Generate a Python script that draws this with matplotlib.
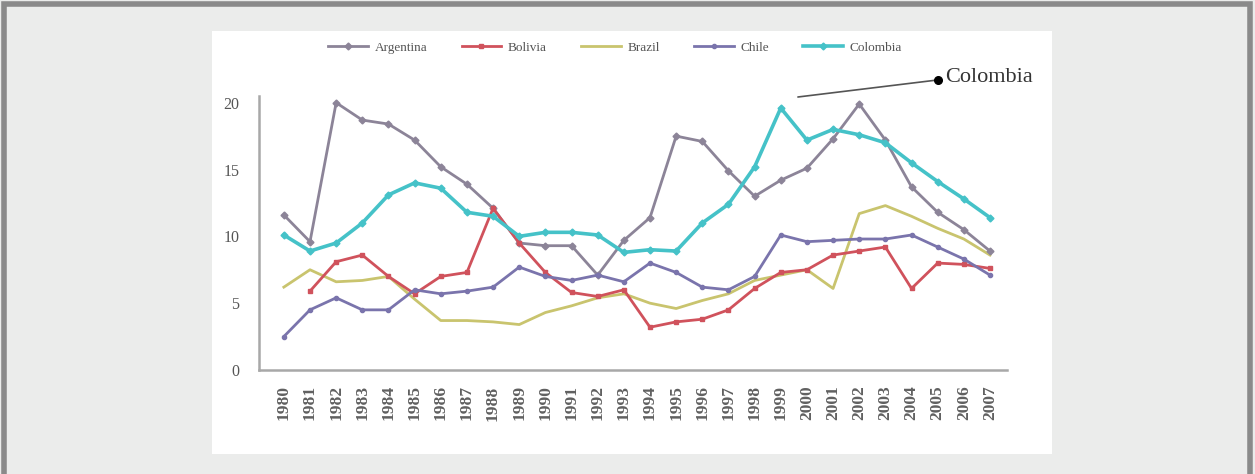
import matplotlib
matplotlib.use("Agg")
import matplotlib.pyplot as plt
from matplotlib.patches import Rectangle

years = list(range(1980, 2008))
year_labels = [str(y) for y in years]

argentina = [11.6, 9.6, 20.0, 18.7, 18.4, 17.2, 15.2, 13.9, 12.1, 9.5, 9.3, 9.3, 7.1, 9.7,
             11.4, 17.5, 17.1, 14.9, 13.0, 14.2, 15.1, 17.3, 19.9, 17.2, 13.7, 11.8, 10.5, 8.9]
bolivia_years = list(range(1981, 2008))
bolivia = [5.9, 8.1, 8.6, 7.0, 5.7, 7.0, 7.3, 12.1, 9.5, 7.3, 5.8, 5.5, 6.0,
           3.2, 3.6, 3.8, 4.5, 6.1, 7.3, 7.5, 8.6, 8.9, 9.2, 6.1, 8.0, 7.9, 7.6]
brazil = [6.2, 7.5, 6.6, 6.7, 7.0, 5.3, 3.7, 3.7, 3.6, 3.4, 4.3, 4.8, 5.4, 5.7,
          5.0, 4.6, 5.2, 5.7, 6.7, 7.1, 7.5, 6.1, 11.7, 12.3, 11.5, 10.6, 9.8, 8.6]
chile = [2.5, 4.5, 5.4, 4.5, 4.5, 6.0, 5.7, 5.9, 6.2, 7.7, 7.0, 6.7, 7.1, 6.6,
         8.0, 7.3, 6.2, 6.0, 7.0, 10.1, 9.6, 9.7, 9.8, 9.8, 10.1, 9.2, 8.3, 7.1]
colombia = [10.1, 8.9, 9.5, 11.0, 13.1, 14.0, 13.6, 11.8, 11.5, 10.0, 10.3, 10.3, 10.1, 8.8,
            9.0, 8.9, 11.0, 12.4, 15.2, 19.6, 17.2, 18.0, 17.6, 17.0, 15.5, 14.1, 12.8, 11.4]

W, H = 1255, 474
fig = plt.figure(figsize=(W / 100, H / 100), dpi=100)
fig.patch.set_facecolor('#ebeceb')

# outer frame
fig.patches.append(Rectangle((4 / W, -0.05), (1250 - 4) / W, 1.05 - 4 / H, transform=fig.transFigure,
                             facecolor='none', edgecolor='#8a8a8a', lw=4, zorder=-2))
# white panel
fig.patches.append(Rectangle((212 / W, 1 - 454 / H), 840 / W, (454 - 31) / H, transform=fig.transFigure,
                             facecolor='white', edgecolor='none', zorder=-1))

ax = fig.add_axes([259 / W, 1 - 370 / H, 748 / W, (370 - 96) / H])
ax.set_zorder(2)
ax.set_facecolor('none')

serif = ['Liberation Serif', 'DejaVu Serif']

ax.plot(years, argentina, color='#8c8498', lw=2, marker='D', ms=3.5, label='Argentina', zorder=3)
ax.plot(bolivia_years, bolivia, color='#d0525c', lw=2, marker='s', ms=3.5, label='Bolivia', zorder=3)
ax.plot(years, brazil, color='#c9c46e', lw=2, label='Brazil', zorder=2)
ax.plot(years, chile, color='#7a74ac', lw=2, marker='o', ms=3, label='Chile', zorder=3)
ax.plot(years, colombia, color='#45c2c8', lw=2.6, marker='D', ms=3.5, label='Colombia', zorder=4)

ax.set_xlim(1979.05, 2007.65)
ax.set_ylim(0, 20.5)
ax.set_yticks([0, 5, 10, 15, 20])
ax.set_xticks(years)
ax.set_xticklabels(year_labels, rotation=90, fontsize=12.5, family=serif, color='#606060',
                   fontweight='bold')
for t in ax.get_yticklabels():
    t.set_family(serif)
    t.set_fontsize(11.5)
    t.set_color('#555555')
ax.tick_params(axis='both', length=0)
ax.tick_params(axis='y', pad=14)
ax.tick_params(axis='x', pad=11)
for s in ['top', 'right']:
    ax.spines[s].set_visible(False)
for s in ['left', 'bottom']:
    ax.spines[s].set_color('#a8a8a8')
    ax.spines[s].set_linewidth(1.8)

leg = fig.legend(loc='center', bbox_to_anchor=(615 / W, 1 - 48 / H), ncol=5, frameon=False,
                 prop={'family': serif, 'size': 9.5}, handlelength=3.0, columnspacing=2.6,
                 handletextpad=0.5)
for t in leg.get_texts():
    t.set_color('#555555')

# Colombia callout
ax.annotate('', xy=(1999.55, 20.4), xytext=(2005.0, 21.7),
            arrowprops=dict(arrowstyle='-', color='#555555', lw=1.2), annotation_clip=False)
ax.plot([2005.0], [21.7], 'o', color='black', ms=5.5, clip_on=False, zorder=5)
ax.text(2005.3, 21.9, 'Colombia', va='center', ha='left', fontsize=16, family=serif,
        color='#333333', clip_on=False)

fig.savefig('out.png', dpi=100, facecolor=fig.get_facecolor())
